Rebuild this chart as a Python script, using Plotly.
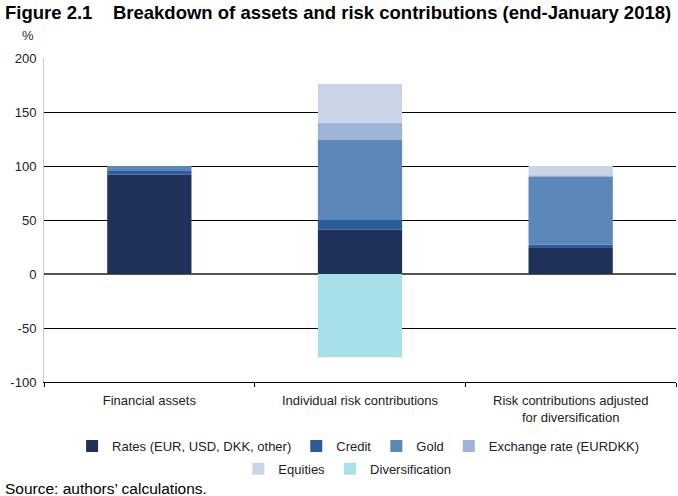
import plotly.graph_objects as go

categories = ["Financial assets", "Individual risk contributions", "Risk contributions adjusted<br>for diversification"]
rates = [92, 41, 24]
credit = [4, 9, 3]
gold = [4, 74, 63]
fx = [0, 16, 1]
equities = [0, 36, 9]
diversification = [0, -77, 0]
y_ticks = [-100, -50, 0, 50, 100, 150, 200]
y_tick_labels = ["-100", "-50", "0", "50", "100", "150", "200"]

series = [
    ("Rates (EUR, USD, DKK, other)", rates, "#1f3059", "legend"),
    ("Credit", credit, "#2e5c99", "legend"),
    ("Gold", gold, "#5b87b9", "legend"),
    ("Exchange rate (EURDKK)", fx, "#9db4d7", "legend"),
    ("Equities", equities, "#c9d5e6", "legend2"),
    ("Diversification", diversification, "#a8e0e7", "legend2"),
]

fig = go.Figure()
for name, vals, col, lg in series:
    fig.add_trace(go.Bar(x=categories, y=vals, name=name, marker=dict(color=col, line=dict(width=0)),
                         width=0.4, legend=lg))

font = "Liberation Sans, Arial, sans-serif"
fig.update_layout(
    width=678, height=496,
    margin=dict(l=44, r=2, t=58, b=114, autoexpand=False),
    barmode="relative",
    plot_bgcolor="white", paper_bgcolor="white",
    font=dict(family=font, size=13, color="#222"),
    showlegend=True,
    legend=dict(orientation="h", x=0.497, xanchor="center", y=-0.198, yanchor="middle",
                font=dict(size=13), itemwidth=30, traceorder="normal"),
    legend2=dict(orientation="h", x=0.48, xanchor="center", y=-0.268, yanchor="middle",
                 font=dict(size=13), itemwidth=30, traceorder="normal"),
    xaxis=dict(type="category", range=[-0.5, 2.5], tickson="boundaries", ticks="outside",
               ticklen=4, tickcolor="black", showgrid=False, showline=True, linecolor="black",
               linewidth=1, ticklabelstandoff=6, tickfont=dict(size=13, color="#222")),
    yaxis=dict(range=[-100, 200], tickvals=y_ticks, ticktext=y_tick_labels,
               showgrid=True, gridcolor="black", gridwidth=1,
               zeroline=True, zerolinecolor="#555", zerolinewidth=2,
               showline=True, linecolor="#c8c8c8", linewidth=1, ticklabelstandoff=4,
               ticks="", tickfont=dict(size=13, color="#222")),
    annotations=[
        dict(text="<b>Figure 2.1    Breakdown of assets and risk contributions (end-January 2018)</b>",
             xref="paper", yref="paper", x=0, xanchor="left", xshift=-41, y=1, yshift=46,
             yanchor="middle", showarrow=False, font=dict(size=18.5, color="black")),
        dict(text="%", xref="paper", yref="paper", x=0, xanchor="right", xshift=-8, y=1, yshift=23,
             yanchor="middle", showarrow=False, font=dict(size=13, color="#222")),
        dict(text="Source: authors\u2019 calculations.", xref="paper", yref="paper", x=0, xanchor="left",
             xshift=-41, y=0, yshift=-106, yanchor="middle", showarrow=False,
             font=dict(size=15.5, color="black")),
    ],
)

fig.write_html("out.html", config={"displayModeBar": False},
               post_script="document.body.style.margin='0px';")
